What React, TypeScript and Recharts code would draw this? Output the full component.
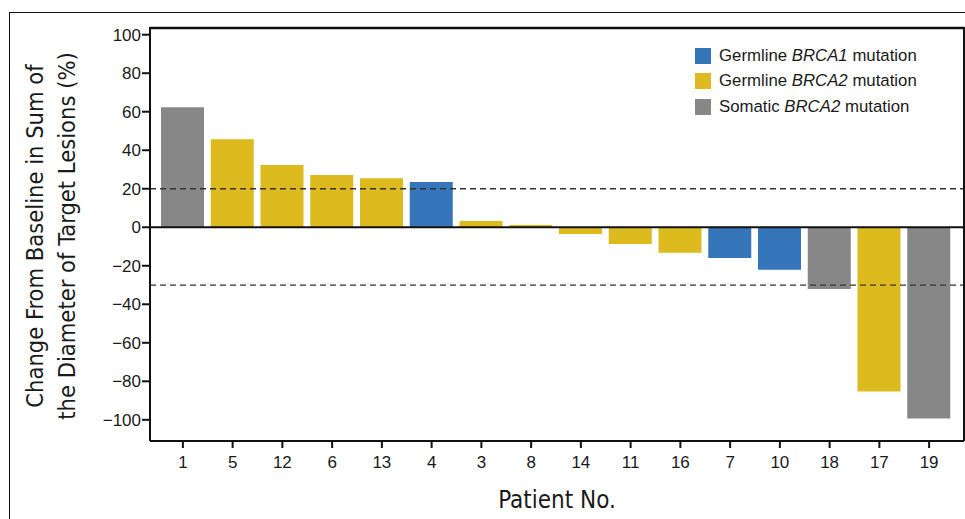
import { BarChart, Bar, XAxis, YAxis, Cell, ReferenceLine } from 'recharts'

const patients = ['1', '5', '12', '6', '13', '4', '3', '8', '14', '11', '16', '7', '10', '18', '17', '19']
const changes = [62.3, 45.7, 32.3, 27.1, 25.5, 23.5, 3.3, 1.2, -3.5, -8.7, -13.3, -15.9, -22.1, -32, -85.3, -99.3]
const mutations = ['S2', 'G2', 'G2', 'G2', 'G2', 'G1', 'G2', 'G2', 'G2', 'G2', 'G2', 'G1', 'G1', 'S2', 'G2', 'S2']
const yTicks = [-100, -80, -60, -40, -20, 0, 20, 40, 60, 80, 100]

const colors: Record<string, string> = { G1: '#3575ba', G2: '#ddbb1f', S2: '#878787' }
const legendItems = [
  { key: 'G1', pre: 'Germline ', gene: 'BRCA1', post: ' mutation' },
  { key: 'G2', pre: 'Germline ', gene: 'BRCA2', post: ' mutation' },
  { key: 'S2', pre: 'Somatic ', gene: 'BRCA2', post: ' mutation' }
]

const data = patients.map((p, i) => ({ patient: p, change: changes[i], mutation: mutations[i] }))

const narrow = '"Liberation Sans Narrow", "DejaVu Sans Condensed", Arial, sans-serif'
const sans = '"Liberation Sans", Arial, sans-serif'

function YLabel() {
  return (
    <g fill="#1a1a1a" fontFamily={narrow} fontSize={23.5}>
      <text x={43} y={236} textAnchor="middle" transform="rotate(-90, 43, 236)">
        Change From Baseline in Sum of
      </text>
      <text x={75} y={236} textAnchor="middle" transform="rotate(-90, 75, 236)">
        the Diameter of Target Lesions (%)
      </text>
    </g>
  )
}

function LegendBox() {
  return (
    <div style={{ position: 'absolute', left: 695, top: 43, fontFamily: sans, fontSize: 16.8, color: '#1a1a1a' }}>
      {legendItems.map((it) => (
        <div key={it.key} style={{ display: 'flex', alignItems: 'center', height: 25.5 }}>
          <span style={{ width: 16, height: 16, background: colors[it.key], marginRight: 8, display: 'inline-block' }} />
          <span>
            {it.pre}
            <i>{it.gene}</i>
            {it.post}
          </span>
        </div>
      ))}
    </div>
  )
}

const fmt = (v: number) => (v < 0 ? '\u2212' + Math.abs(v) : String(v))

export default function App() {
  return (
    <div style={{ position: 'absolute', left: 0, top: 0, width: 965, height: 519, background: '#fff' }}>
      <BarChart width={965} height={519} data={data} margin={{ top: 27, right: 0, bottom: 0, left: 0 }}>
        <XAxis
          dataKey="patient"
          height={78}
          padding={{ left: 8, right: 10 }}
          tickSize={7}
          tickMargin={8}
          stroke="#111"
          strokeWidth={2}
          tick={{ fill: '#1a1a1a', fontSize: 17, fontFamily: sans }}
          label={{ value: 'Patient No.', position: 'insideBottom', offset: 11, fill: '#1a1a1a', fontSize: 24, fontFamily: narrow }}
        />
        <YAxis
          width={150}
          domain={[-111, 104]}
          ticks={yTicks}
          tickFormatter={fmt}
          tickSize={8}
          tickMargin={1}
          stroke="#111"
          strokeWidth={2}
          interval={0}
          tick={{ fill: '#1a1a1a', fontSize: 17, fontFamily: sans }}
          label={<YLabel />}
        />
        <YAxis yAxisId="right" orientation="right" width={1} tick={false} tickLine={false} stroke="#111" strokeWidth={2} />
        <ReferenceLine y={20} stroke="#333" strokeDasharray="6 4" strokeWidth={1.3} />
        <ReferenceLine y={-30} stroke="#333" strokeDasharray="6 4" strokeWidth={1.3} />
        <ReferenceLine y={103.5} stroke="#111" strokeWidth={2.5} ifOverflow="visible" />
        <Bar dataKey="change" barSize={43} isAnimationActive={false}>
          {data.map((d) => (
            <Cell key={d.patient} fill={colors[d.mutation]} />
          ))}
        </Bar>
        <ReferenceLine y={0} stroke="#111" strokeWidth={2} />
      </BarChart>
      <div
        style={{
          position: 'absolute',
          left: 9,
          top: 12,
          right: 0,
          bottom: 0,
          borderTop: '1.5px solid #111',
          borderLeft: '1.5px solid #111',
          pointerEvents: 'none'
        }}
      />
      <LegendBox />
    </div>
  )
}
